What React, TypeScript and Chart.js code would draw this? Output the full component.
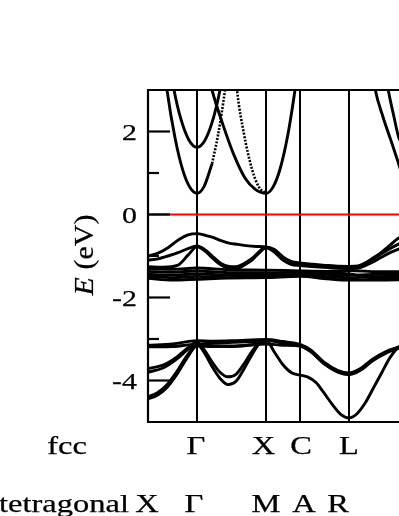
import React, { useEffect, useRef } from "react";
import { Chart, registerables } from "chart.js";
Chart.register(...registerables);

type P = [number, number];

// high-symmetry k positions (path distance) and labels
const kPoints = [0.49, 1.18, 1.52, 2.01, 2.6];
const fccLabels = ["Γ", "X", "C", "L", "Γ"];
const fccLabelK = [0.49, 1.18, 1.52, 2.01, 2.6];
const tetLabels = ["X", "Γ", "M", "A", "R"];
const tetLabelK = [0, 0.49, 1.18, 1.52, 2.01];
const rowNames = ["fcc", "tetragonal"];
const yMajor = [2, 0, -2, -4];
const yMajorLabels = ["2", "0", "-2", "-4"];
const yMinor = [1, -1, -3];
const yTitleItalic = "E";
const yTitleRest = " (eV)";

// conduction bands
const cb1: P[] = [[0.08, 5.2], [0.19, 3.0], [0.27, 1.85], [0.35, 1.05], [0.42, 0.65], [0.49, 0.51], [0.56, 0.67], [0.64, 1.22]];
const cb1Dotted: P[] = [[0.64, 1.22], [0.7, 1.91], [0.77, 3.0], [0.84, 4.4]];
const cb2: P[] = [[0.15, 4.6], [0.26, 3.0], [0.33, 2.29], [0.41, 1.79], [0.49, 1.62], [0.57, 1.79], [0.65, 2.29], [0.72, 3.0], [0.82, 4.4]];
const cb3: P[] = [[0.5, 4.4], [0.64, 3.0], [0.75, 2.16], [0.86, 1.43], [0.97, 0.88], [1.07, 0.61], [1.18, 0.51], [1.25, 0.66], [1.32, 1.09], [1.4, 1.94], [1.47, 3.0], [1.56, 4.6]];
const cb4Dotted: P[] = [[0.84, 4.4], [0.89, 3.0], [0.96, 1.94], [1.04, 1.09], [1.11, 0.66], [1.18, 0.51]];
const cb5: P[] = [[2.19, 4.4], [2.27, 3.04], [2.35, 2.35], [2.43, 1.78], [2.5, 1.27], [2.6, 0.51]];
const cb6: P[] = [[2.33, 4.2], [2.4, 3.04], [2.46, 2.35], [2.51, 1.84], [2.6, 1.62]];

// Fermi level
const fermi: P[] = [[0, 0], [2.8, 0]];

// upper valence bands
const vb1: P[] = [[0, -1.0], [0.1, -0.93], [0.2, -0.8], [0.31, -0.6], [0.4, -0.49], [0.49, -0.46], [0.57, -0.5], [0.65, -0.55], [0.73, -0.63], [0.81, -0.69], [0.9, -0.72], [0.98, -0.75], [1.08, -0.77], [1.18, -0.78], [1.26, -0.86], [1.35, -1.06], [1.43, -1.15], [1.52, -1.18], [1.65, -1.22], [1.8, -1.24], [2.01, -1.25], [2.1, -1.24], [2.17, -1.17], [2.25, -1.05], [2.34, -0.9], [2.42, -0.74], [2.5, -0.58], [2.6, -0.46]];
const vb2: P[] = [[0, -1.1], [0.1, -1.07], [0.2, -1.0], [0.3, -0.92], [0.4, -0.82], [0.49, -0.76], [0.57, -0.85], [0.65, -1.02], [0.73, -1.18], [0.81, -1.25], [0.88, -1.26], [0.96, -1.18], [1.04, -1.06], [1.11, -0.9], [1.18, -0.78], [1.26, -0.84], [1.35, -1.02], [1.43, -1.13], [1.52, -1.17], [1.65, -1.2], [1.8, -1.23], [2.01, -1.27], [2.12, -1.25], [2.2, -1.15], [2.3, -1.0], [2.4, -0.85], [2.5, -0.72], [2.6, -0.62]];
const vb3: P[] = [[0, -1.26], [0.15, -1.27], [0.3, -1.22], [0.4, -0.98], [0.49, -0.78], [0.57, -0.88], [0.65, -1.06], [0.73, -1.22], [0.81, -1.3], [0.88, -1.31], [0.96, -1.22], [1.04, -1.1], [1.11, -0.93], [1.18, -0.8], [1.26, -0.9], [1.35, -1.1], [1.43, -1.2], [1.52, -1.23], [1.8, -1.28], [2.01, -1.3], [2.12, -1.28], [2.22, -1.18], [2.32, -1.05], [2.42, -0.92], [2.52, -0.82], [2.6, -0.76]];
const flat1: P[] = [[0, -1.3], [0.25, -1.32], [0.49, -1.29], [0.8, -1.33], [1.18, -1.34], [1.52, -1.36], [1.8, -1.37], [2.01, -1.35], [2.3, -1.38], [2.6, -1.38]];
const flat2: P[] = [[0, -1.37], [0.25, -1.39], [0.49, -1.36], [0.8, -1.4], [1.18, -1.4], [1.52, -1.42], [1.8, -1.44], [2.01, -1.46], [2.3, -1.44], [2.6, -1.43]];
const flat3: P[] = [[0, -1.44], [0.25, -1.46], [0.49, -1.43], [0.8, -1.46], [1.18, -1.45], [1.52, -1.46], [1.8, -1.5], [2.01, -1.52], [2.3, -1.5], [2.6, -1.48]];
const flat4: P[] = [[0, -1.49], [0.25, -1.52], [0.49, -1.49], [0.8, -1.52], [1.18, -1.48], [1.52, -1.42], [1.8, -1.4], [2.01, -1.43], [2.3, -1.54], [2.6, -1.54]];
const flat5: P[] = [[0, -1.54], [0.25, -1.58], [0.49, -1.56], [0.8, -1.53], [1.18, -1.52], [1.52, -1.49], [1.8, -1.55], [2.01, -1.58], [2.3, -1.58], [2.6, -1.57]];

// lower valence bands
const d1: P[] = [[0, -3.15], [0.25, -3.12], [0.49, -3.04], [0.65, -3.05], [0.85, -3.04], [1.18, -3.01], [1.35, -3.06], [1.52, -3.13], [1.63, -3.27], [1.76, -3.56], [1.9, -3.76], [2.01, -3.82], [2.12, -3.72], [2.25, -3.48], [2.38, -3.3], [2.51, -3.19], [2.6, -3.12]];
const d2: P[] = [[0, -3.19], [0.25, -3.18], [0.49, -3.13], [0.65, -3.16], [0.85, -3.17], [1.18, -3.12], [1.35, -3.15], [1.52, -3.17], [1.63, -3.31], [1.76, -3.6], [1.9, -3.8], [2.01, -3.86], [2.12, -3.76], [2.25, -3.52], [2.38, -3.34], [2.51, -3.22], [2.6, -3.15]];
const d3: P[] = [[0, -3.71], [0.15, -3.63], [0.29, -3.43], [0.39, -3.23], [0.49, -3.08], [0.56, -3.25], [0.64, -3.55], [0.72, -3.8], [0.8, -3.91], [0.88, -3.85], [0.96, -3.6], [1.04, -3.3], [1.11, -3.1], [1.18, -3.02], [1.26, -3.3], [1.35, -3.62], [1.44, -3.82], [1.52, -3.87], [1.6, -3.92], [1.68, -4.05], [1.76, -4.3], [1.85, -4.6], [1.93, -4.82], [2.01, -4.9], [2.09, -4.8], [2.17, -4.55], [2.25, -4.2], [2.34, -3.8], [2.42, -3.45], [2.51, -3.19], [2.6, -3.1]];
const d4: P[] = [[0, -3.8], [0.15, -3.7], [0.29, -3.48], [0.39, -3.27], [0.49, -3.12], [0.56, -3.32], [0.64, -3.66], [0.72, -3.95], [0.8, -4.1], [0.88, -4.02], [0.96, -3.72], [1.04, -3.38], [1.11, -3.12], [1.18, -3.04], [1.35, -3.1], [1.52, -3.16], [1.63, -3.3], [1.76, -3.58], [1.9, -3.79], [2.01, -3.84], [2.12, -3.74], [2.25, -3.5], [2.38, -3.32], [2.51, -3.2], [2.6, -3.14]];
const d5: P[] = [[0, -4.39], [0.09, -4.3], [0.19, -4.1], [0.29, -3.78], [0.39, -3.4], [0.49, -3.14], [0.65, -3.1], [0.85, -3.08], [1.18, -3.05]];
const d6: P[] = [[0, -4.44], [0.09, -4.36], [0.19, -4.17], [0.29, -3.85], [0.39, -3.46], [0.49, -3.17], [0.65, -3.18], [0.85, -3.18], [1.18, -3.1]];

const solidBands = [cb1, cb2, cb3, cb5, cb6, vb1, vb2, vb3, flat1, flat2, flat3, flat4, flat5, d1, d2, d3, d4, d5, d6];
const dottedBands = [cb1Dotted, cb4Dotted];

const SERIF = "'Liberation Serif', 'Times New Roman', serif";

function toPts(b: P[]) {
  return b.map(([x, y]) => ({ x, y }));
}

const decorPlugin = {
  id: "decor",
  afterDatasetsDraw(chart: any) {
    const { ctx, chartArea: a, scales } = chart;
    const ys = scales.y;
    ctx.save();
    ctx.strokeStyle = "#000";
    ctx.lineWidth = 2.2;
    ctx.lineCap = "butt";
    ctx.beginPath();
    ctx.moveTo(a.right + 10, a.top);
    ctx.lineTo(a.left, a.top);
    ctx.lineTo(a.left, a.bottom);
    ctx.lineTo(a.right + 10, a.bottom);
    ctx.stroke();
    for (const v of yMajor) {
      const y = ys.getPixelForValue(v);
      ctx.beginPath();
      ctx.moveTo(a.left, y);
      ctx.lineTo(a.left + 22, y);
      ctx.stroke();
    }
    for (const v of yMinor) {
      const y = ys.getPixelForValue(v);
      ctx.beginPath();
      ctx.moveTo(a.left, y);
      ctx.lineTo(a.left + 11, y);
      ctx.stroke();
    }
    ctx.restore();
  },
  afterDraw(chart: any) {
    const { ctx, scales } = chart;
    const xs = scales.x;
    const ys = scales.y;
    ctx.save();
    ctx.fillStyle = "#000";
    ctx.strokeStyle = "#000";
    ctx.lineWidth = 0.25;
    const put = (t: string, x: number, y: number) => {
      ctx.fillText(t, x, y);
      ctx.strokeText(t, x, y);
    };
    // y tick labels
    ctx.font = `23px ${SERIF}`;
    ctx.textAlign = "right";
    ctx.textBaseline = "alphabetic";
    yMajor.forEach((v, i) => {
      const y = ys.getPixelForValue(v);
      ctx.save();
      ctx.translate(137, y + 8.5);
      ctx.scale(1.3, 1);
      put(yMajorLabels[i], 0, 0);
      ctx.restore();
    });
    // y title
    ctx.save();
    ctx.translate(86, 255);
    ctx.scale(0.9, 1);
    ctx.rotate(-Math.PI / 2);
    ctx.textBaseline = "middle";
    ctx.textAlign = "left";
    ctx.font = `italic 30px ${SERIF}`;
    const w1 = ctx.measureText(yTitleItalic).width;
    ctx.font = `30px ${SERIF}`;
    const w2 = ctx.measureText(yTitleRest).width;
    const start = -(w1 + w2) / 2;
    ctx.font = `italic 30px ${SERIF}`;
    put(yTitleItalic, start, 0);
    ctx.font = `30px ${SERIF}`;
    put(yTitleRest, start + w1, 0);
    ctx.restore();
    // bottom label rows
    ctx.font = `25px ${SERIF}`;
    ctx.textAlign = "center";
    ctx.textBaseline = "alphabetic";
    const sx = 1.3;
    const rowY = [454, 512];
    const rowX = [67, 64];
    const fccDx = [-1, -2.5, 1, 0, 0];
    const tetDx = [-1, -3, 0, 4, -11];
    const draw = (t: string, x: number, y: number) => {
      ctx.save();
      ctx.translate(x, y);
      ctx.scale(sx, 1);
      put(t, 0, 0);
      ctx.restore();
    };
    draw(rowNames[0], rowX[0], rowY[0]);
    draw(rowNames[1], rowX[1], rowY[1]);
    fccLabels.forEach((t, i) => draw(t, xs.getPixelForValue(fccLabelK[i]) + fccDx[i], rowY[0]));
    tetLabels.forEach((t, i) => draw(t, xs.getPixelForValue(tetLabelK[i]) + tetDx[i], rowY[1]));
    ctx.restore();
  },
};

export default function App() {
  const ref = useRef<HTMLCanvasElement | null>(null);
  useEffect(() => {
    if (!ref.current) return;
    const datasets: any[] = [];
    datasets.push({
      data: toPts(fermi),
      showLine: true,
      borderColor: "#ff0000",
      borderWidth: 2,
      pointRadius: 0,
    });
    solidBands.forEach((b) =>
      datasets.push({
        data: toPts(b),
        showLine: true,
        borderColor: "#000",
        borderWidth: 2.9,
        pointRadius: 0,
        cubicInterpolationMode: "monotone",
      })
    );
    dottedBands.forEach((b) =>
      datasets.push({
        data: toPts(b),
        showLine: true,
        borderColor: "#000",
        borderWidth: 2.6,
        borderDash: [2, 1.5],
        pointRadius: 0,
        cubicInterpolationMode: "monotone",
      })
    );
    const chart = new Chart(ref.current, {
      type: "scatter",
      data: { datasets },
      options: {
        animation: false,
        responsive: false,
        maintainAspectRatio: false,
        events: [],
        layout: { padding: { left: 148, top: 90, right: 12, bottom: 94 } },
        plugins: { legend: { display: false }, tooltip: { enabled: false } },
        scales: {
          x: {
            type: "linear",
            min: 0,
            max: 2.8,
            afterBuildTicks: (s: any) => {
              s.ticks = kPoints.map((v) => ({ value: v }));
            },
            ticks: { display: false },
            grid: { color: "#000", lineWidth: 2, drawTicks: false },
            border: { display: false },
            afterFit: (s: any) => {
              s.height = 0;
            },
          },
          y: {
            type: "linear",
            min: -5,
            max: 3,
            ticks: { display: false },
            grid: { display: false },
            border: { display: false },
            afterFit: (s: any) => {
              s.width = 0;
            },
          },
        },
      } as any,
      plugins: [decorPlugin],
    });
    return () => chart.destroy();
  }, []);
  return (
    <div
      style={{
        position: "fixed",
        left: 0,
        top: 0,
        width: 399,
        height: 516,
        overflow: "hidden",
        background: "#fff",
      }}
    >
      <canvas ref={ref} width={440} height={516} style={{ width: 440, height: 516, display: "block" }} />
    </div>
  );
}
